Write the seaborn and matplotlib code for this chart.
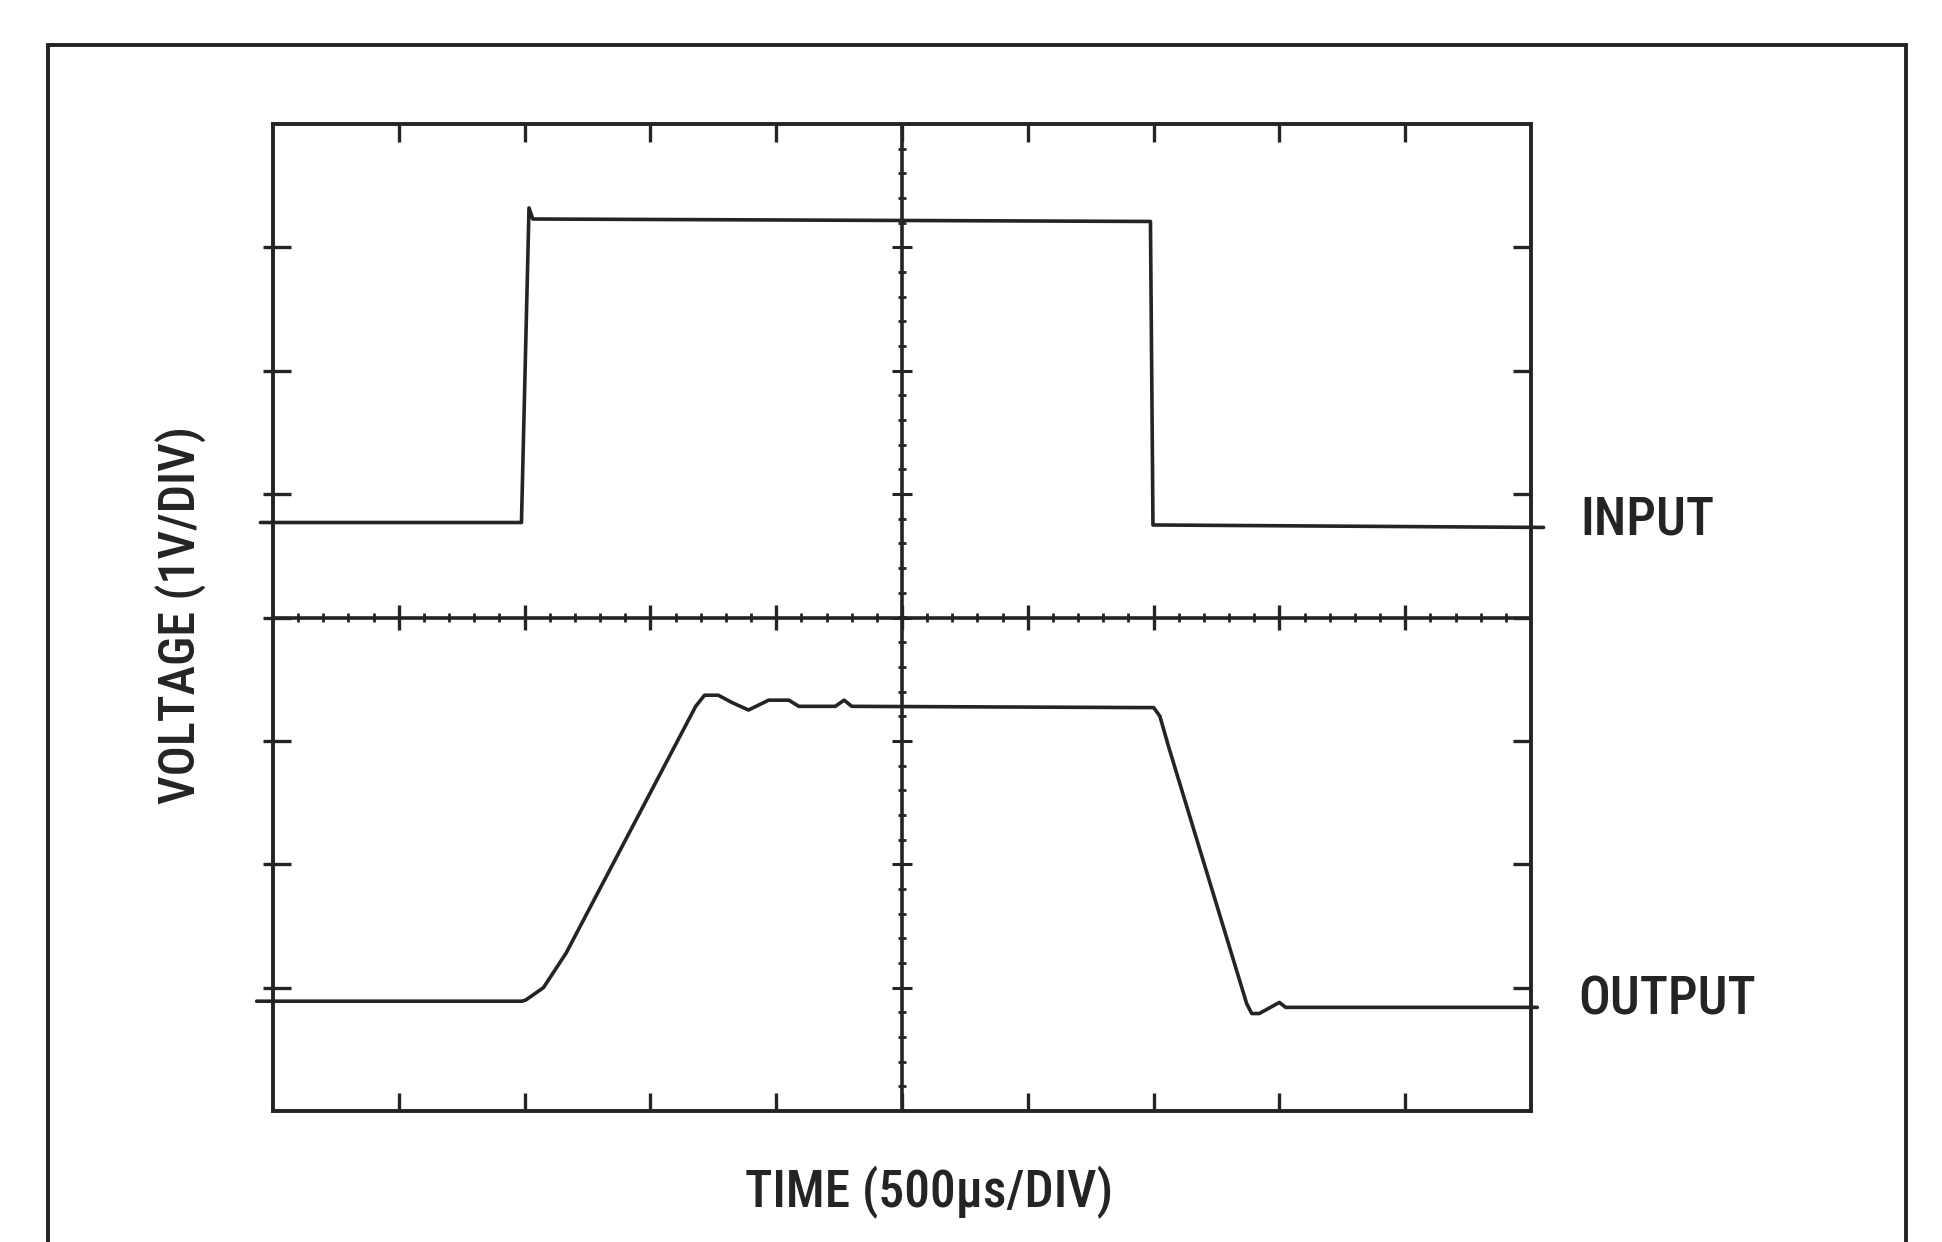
import numpy as np
import pandas as pd
import matplotlib
matplotlib.use("Agg")
import matplotlib.pyplot as plt
from matplotlib.patches import Rectangle
from matplotlib import font_manager as fm
import seaborn as sns

# ---- data (time in divisions of 500us, voltage in divisions of 1V, 0 = screen centre) ----
input_t = [-0.10, 1.975, 2.035, 2.065, 6.975, 6.995, 10.10]
input_v = [0.77, 0.77, 3.32, 3.23, 3.21, 0.75, 0.73]

output_t = [-0.13, 1.98, 2.01, 2.15, 2.33, 3.36, 3.43, 3.54, 3.65, 3.78, 3.94, 4.10,
            4.18, 4.47, 4.54, 4.60, 6.88, 7.00, 7.05, 7.12, 7.74, 7.78, 7.84, 8.00,
            8.05, 10.05]
output_v = [-3.11, -3.11, -3.10, -3.00, -2.72, -0.72, -0.63, -0.63, -0.69, -0.75, -0.67, -0.67,
            -0.72, -0.72, -0.67, -0.72, -0.73, -0.73, -0.80, -1.05, -3.13, -3.21, -3.21, -3.12,
            -3.16, -3.16]

trace_labels = ["INPUT", "OUTPUT"]
x_label = "TIME (500µs/DIV)"
y_label = "VOLTAGE (1V/DIV)"

sns.set_theme(style="white")

# pick a condensed sans face if one is installed
names = {f.name for f in fm.fontManager.ttflist}
family, stretch, size = "DejaVu Sans", "condensed", 35
for cand in ["Liberation Sans Narrow", "Roboto Condensed", "Open Sans Condensed",
             "Noto Sans Condensed", "Arial Narrow", "Nimbus Sans Narrow"]:
    if cand in names:
        family, stretch, size = cand, "normal", 38
        break
plt.rcParams["font.family"] = [family, "DejaVu Sans"]
plt.rcParams["font.stretch"] = stretch

INK = "#242424"
W, H = 1942, 1242
fig = plt.figure(figsize=(W / 100, H / 100), dpi=100)
fig.patch.set_facecolor("white")

# outer frame (bottom runs off the page)
fig.patches.append(Rectangle((48 / W, -0.05), (1906 - 48) / W, 0.05 + (1 - 45 / H),
                             transform=fig.transFigure, fill=False, lw=2.8,
                             edgecolor=INK, clip_on=False))

ax = fig.add_axes([273 / W, 1 - 1111 / H, (1531 - 273) / W, (1111 - 124) / H])
ax.set_facecolor("white")

df_in = pd.DataFrame({"t": input_t, "v": input_v})
df_out = pd.DataFrame({"t": output_t, "v": output_v})
sns.lineplot(data=df_in, x="t", y="v", ax=ax, color=INK, lw=2.6, sort=False,
             estimator=None, clip_on=False)
sns.lineplot(data=df_out, x="t", y="v", ax=ax, color=INK, lw=2.6, sort=False,
             estimator=None, clip_on=False)

ax.set_xlim(0, 10)
ax.set_ylim(-4, 4)
ax.set_xlabel("")
ax.set_ylabel("")

# graticule: centre crosshair with minor ticks
ax.axvline(5, color=INK, lw=2.6)
ax.axhline(0, color=INK, lw=2.6)
minor = np.arange(-4, 4.01, 0.2)
ax.hlines(minor, 5 - 0.035, 5 + 0.035, color=INK, lw=2.0)
major_y = np.arange(-3, 4, 1)
ax.hlines(major_y, 5 - 0.08, 5 + 0.08, color=INK, lw=2.2)
minor_x = np.arange(0, 10.01, 0.2)
ax.vlines(minor_x, -0.035, 0.035, color=INK, lw=2.0)
major_x = np.arange(1, 10, 1)
ax.vlines(major_x, -0.1, 0.1, color=INK, lw=2.4)
# small outward stubs of the left-edge ticks
ax.hlines(major_y, -0.08, 0, color=INK, lw=2.4, clip_on=False)

# box edge ticks
ax.set_xticks(np.arange(1, 10, 1))
ax.set_yticks(np.arange(-3, 4, 1))
ax.tick_params(axis="both", which="major", direction="in", length=13, width=2.4,
               color=INK, top=True, bottom=True, left=True, right=True,
               labelbottom=False, labelleft=False)
for s in ax.spines.values():
    s.set_visible(True)
    s.set_color(INK)
    s.set_linewidth(2.8)

fig.text(1580 / W, 1 - 520 / H, trace_labels[0], ha="left", va="center",
         fontsize=size, weight="medium", color=INK)
fig.text(1578 / W, 1 - 1000 / H, trace_labels[1], ha="left", va="center",
         fontsize=size, weight="medium", color=INK)
fig.text(929 / W, 1 - 1192 / H, x_label, ha="center", va="center",
         fontsize=size - 1, weight="medium", color=INK)
fig.text(181 / W, 1 - 615 / H, y_label, ha="center", va="center",
         rotation=90, fontsize=size - 2, weight="medium", color=INK)

fig.savefig("out.png", dpi=100, facecolor="white")
